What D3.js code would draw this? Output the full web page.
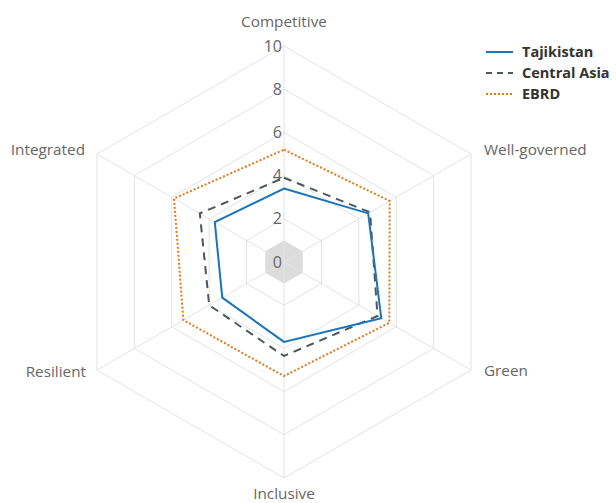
<!DOCTYPE html>
<html lang="en">
<head>
    <meta charset="UTF-8">
    <title>Tajikistan radar</title>
    <script src="https://d3js.org/d3.v7.min.js"></script>
    <style>
        body { margin: 0; background: #fff; }
        .axis-label { font: 15.3px "Open Sans", Arial, sans-serif; fill: #666; }
        .tick-label { font: 16px "Open Sans", Arial, sans-serif; fill: #666; }
        .legend text { font: bold 14.5px "Open Sans", Arial, sans-serif; fill: #333; }
    </style>
</head>
<body>
<script>
    var width = 616, height = 503;

    var categories = ["Competitive", "Well-governed", "Green", "Inclusive", "Resilient", "Integrated"];
    var tajikistan = [3.4, 4.5, 5.2, 3.7, 3.3, 3.7];
    var centralAsia = [3.9, 4.6, 5.0, 4.35, 4.0, 4.5];
    var ebrd = [5.2, 5.65, 5.63, 5.28, 5.38, 5.88];
    var ticks = [0, 2, 4, 6, 8, 10];

    var series = [
        {name: "Tajikistan", values: tajikistan, color: "#1a75bb", dash: null, width: 2},
        {name: "Central Asia", values: centralAsia, color: "#4f565c", dash: "8,6", width: 2},
        {name: "EBRD", values: ebrd, color: "#e2791b", dash: "2,2", width: 2}
    ];

    var cx = 284, cy = 262;
    var r = d3.scaleLinear().domain([0, 10]).range([0, 216]);

    var svg = d3.select("body").append("svg")
        .attr("width", width)
        .attr("height", height);

    var g = svg.append("g").attr("transform", "translate(" + cx + "," + cy + ")");

    function angle(i) { return i * 2 * Math.PI / categories.length; }
    function pt(i, v) {
        return [r(v) * Math.sin(angle(i)), -r(v) * Math.cos(angle(i))];
    }
    var radial = d3.line().x(function(d) { return d[0]; }).y(function(d) { return d[1]; })
        .curve(d3.curveLinearClosed);

    // center patch
    g.append("path")
        .attr("d", radial(categories.map(function(c, i) { return pt(i, 1); })))
        .attr("fill", "#dcdcdc");

    // grid rings
    g.selectAll(".ring")
        .data(ticks.slice(1))
        .enter().append("path")
        .attr("class", "ring")
        .attr("d", function(t) { return radial(categories.map(function(c, i) { return pt(i, t); })); })
        .attr("fill", "none")
        .attr("stroke", "#e3e3e3")
        .attr("stroke-width", 1);

    // spokes
    g.selectAll(".spoke")
        .data(categories)
        .enter().append("line")
        .attr("class", "spoke")
        .attr("x1", 0).attr("y1", 0)
        .attr("x2", function(d, i) { return pt(i, 10)[0]; })
        .attr("y2", function(d, i) { return pt(i, 10)[1]; })
        .attr("stroke", "#e3e3e3")
        .attr("stroke-width", 1);

    // tick labels
    g.selectAll(".tick-label")
        .data(ticks)
        .enter().append("text")
        .attr("class", "tick-label")
        .attr("x", -2)
        .attr("y", function(t) { return -r(t); })
        .attr("dy", "0.35em")
        .attr("text-anchor", "end")
        .text(function(t) { return t; });

    // category labels
    var labelPos = [
        {dx: 0, dy: -240, anchor: "middle"},
        {dx: 200, dy: -112, anchor: "start"},
        {dx: 200, dy: 109, anchor: "start"},
        {dx: 0, dy: 232, anchor: "middle"},
        {dx: -198, dy: 110, anchor: "end"},
        {dx: -199, dy: -112, anchor: "end"}
    ];
    g.selectAll(".axis-label")
        .data(categories)
        .enter().append("text")
        .attr("class", "axis-label")
        .attr("x", function(d, i) { return labelPos[i].dx; })
        .attr("y", function(d, i) { return labelPos[i].dy; })
        .attr("dy", "0.35em")
        .attr("text-anchor", function(d, i) { return labelPos[i].anchor; })
        .text(function(d) { return d; });

    // series (draw EBRD first, Tajikistan on top)
    g.selectAll(".series")
        .data(series.slice().reverse())
        .enter().append("path")
        .attr("class", "series")
        .attr("d", function(s) { return radial(s.values.map(function(v, i) { return pt(i, v); })); })
        .attr("fill", "none")
        .attr("stroke", function(s) { return s.color; })
        .attr("stroke-width", function(s) { return s.width; })
        .attr("stroke-dasharray", function(s) { return s.dash; });

    // legend
    var legend = svg.append("g").attr("class", "legend")
        .attr("transform", "translate(486,52)");
    var item = legend.selectAll("g")
        .data(series)
        .enter().append("g")
        .attr("transform", function(d, i) { return "translate(0," + (i * 21) + ")"; });
    item.append("line")
        .attr("x1", 0).attr("x2", 27)
        .attr("stroke", function(d) { return d.color; })
        .attr("stroke-width", 2)
        .attr("stroke-dasharray", function(d) { return d.name === "Central Asia" ? "6,5" : d.dash; });
    item.append("text")
        .attr("x", 36)
        .attr("dy", "0.35em")
        .text(function(d) { return d.name; });
</script>
</body>
</html>
